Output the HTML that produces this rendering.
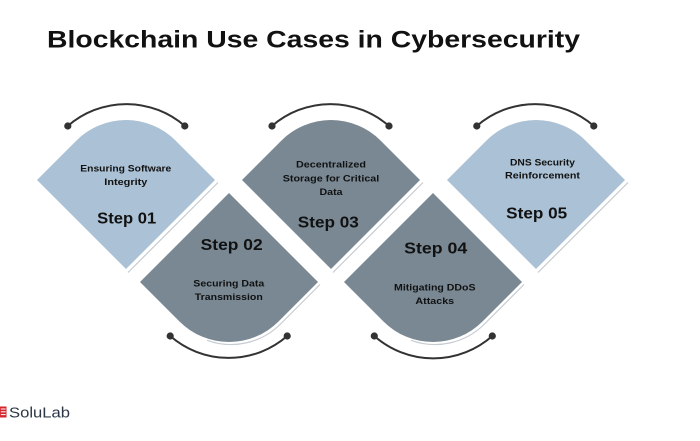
<!DOCTYPE html>
<html>
<head>
<meta charset="utf-8">
<style>
  html, body { margin: 0; padding: 0; background: #ffffff; }
  body { width: 700px; height: 441px; overflow: hidden; }
  svg { display: block; }
  .t { font-family: "Liberation Sans", Arial, sans-serif; font-weight: bold; fill: #111111; }
</style>
</head>
<body>
<svg width="700" height="441" viewBox="0 0 700 441" xmlns="http://www.w3.org/2000/svg">
  <rect width="700" height="441" fill="#ffffff"/>

  <!-- Title -->
  <text class="t" x="47" y="47.5" font-size="24.5" textLength="533" lengthAdjust="spacingAndGlyphs" fill="#050505">Blockchain Use Cases in Cybersecurity</text>

  <!-- Shadow lines -->
  <g fill="none" stroke="#c6ccd2" stroke-width="1.2">
    <line x1="218" y1="182.5" x2="128" y2="272.5"/>
    <line x1="423" y1="182.5" x2="333" y2="272.5"/>
    <line x1="628" y1="182.5" x2="538" y2="272.5"/>
    <path d="M320,284.5 L280.5,324 A70 70 0 0 1 207,340.3"/>
    <path d="M524,284.5 L484.5,324 A70 70 0 0 1 411,340.3"/>
  </g>

  <!-- Diamonds -->
  <path d="M37,180 L76.5,140.5 A70 70 0 0 1 175.5,140.5 L215,180 L126,269 Z" fill="#abc1d5"/>
  <path d="M242,180 L281.5,140.5 A70 70 0 0 1 380.5,140.5 L420,180 L331,269 Z" fill="#798893"/>
  <path d="M447,180 L486.5,140.5 A70 70 0 0 1 585.5,140.5 L625,180 L536,269 Z" fill="#abc1d5"/>
  <path d="M229,193 L318,282 L278.5,321.5 A70 70 0 0 1 179.5,321.5 L140,282 Z" fill="#798893"/>
  <path d="M433,193 L522,282 L482.5,321.5 A70 70 0 0 1 383.5,321.5 L344,282 Z" fill="#798893"/>

  <!-- Arcs -->
  <g fill="none" stroke="#333333" stroke-width="2">
    <path d="M67.8,126 A89 89 0 0 1 184.8,126"/>
    <path d="M272,126 A89 89 0 0 1 389,126"/>
    <path d="M476.8,126 A89 89 0 0 1 593.8,126"/>
    <path d="M170.2,336 A89 89 0 0 0 287.2,336"/>
    <path d="M374.3,336 A89 89 0 0 0 492.3,336"/>
  </g>
  <g fill="#333333">
    <circle cx="67.8" cy="126" r="3.6"/><circle cx="184.8" cy="126" r="3.6"/>
    <circle cx="272" cy="126" r="3.6"/><circle cx="389" cy="126" r="3.6"/>
    <circle cx="476.8" cy="126" r="3.6"/><circle cx="593.8" cy="126" r="3.6"/>
    <circle cx="170.2" cy="336" r="3.6"/><circle cx="287.2" cy="336" r="3.6"/>
    <circle cx="374.3" cy="336" r="3.6"/><circle cx="492.3" cy="336" r="3.6"/>
  </g>

  <!-- Step 01 -->
  <text class="t" x="125.8" y="171.5" font-size="9.5" text-anchor="middle" textLength="91" lengthAdjust="spacingAndGlyphs">Ensuring Software</text>
  <text class="t" x="125.8" y="185" font-size="9.5" text-anchor="middle" textLength="43" lengthAdjust="spacingAndGlyphs">Integrity</text>
  <text class="t" x="126.7" y="223.3" font-size="16" text-anchor="middle" textLength="59" lengthAdjust="spacingAndGlyphs">Step 01</text>

  <!-- Step 02 -->
  <text class="t" x="231.7" y="250" font-size="16" text-anchor="middle" textLength="62" lengthAdjust="spacingAndGlyphs">Step 02</text>
  <text class="t" x="228.8" y="286.5" font-size="9.5" text-anchor="middle" textLength="71" lengthAdjust="spacingAndGlyphs">Securing Data</text>
  <text class="t" x="228.8" y="300" font-size="9.5" text-anchor="middle" textLength="68" lengthAdjust="spacingAndGlyphs">Transmission</text>

  <!-- Step 03 -->
  <text class="t" x="331" y="167.5" font-size="9.5" text-anchor="middle" textLength="70" lengthAdjust="spacingAndGlyphs">Decentralized</text>
  <text class="t" x="331" y="181.5" font-size="9.5" text-anchor="middle" textLength="96.5" lengthAdjust="spacingAndGlyphs">Storage for Critical</text>
  <text class="t" x="331" y="195" font-size="9.5" text-anchor="middle" textLength="23" lengthAdjust="spacingAndGlyphs">Data</text>
  <text class="t" x="328.3" y="227.3" font-size="16" text-anchor="middle" textLength="61" lengthAdjust="spacingAndGlyphs">Step 03</text>

  <!-- Step 04 -->
  <text class="t" x="435.7" y="253.3" font-size="16" text-anchor="middle" textLength="63" lengthAdjust="spacingAndGlyphs">Step 04</text>
  <text class="t" x="434.8" y="290.5" font-size="9.5" text-anchor="middle" textLength="81.5" lengthAdjust="spacingAndGlyphs">Mitigating DDoS</text>
  <text class="t" x="434.8" y="304" font-size="9.5" text-anchor="middle" textLength="38.7" lengthAdjust="spacingAndGlyphs">Attacks</text>

  <!-- Step 05 -->
  <text class="t" x="542.5" y="165.3" font-size="9.5" text-anchor="middle" textLength="65" lengthAdjust="spacingAndGlyphs">DNS Security</text>
  <text class="t" x="542.5" y="178.7" font-size="9.5" text-anchor="middle" textLength="75" lengthAdjust="spacingAndGlyphs">Reinforcement</text>
  <text class="t" x="536.7" y="218.3" font-size="16" text-anchor="middle" textLength="61" lengthAdjust="spacingAndGlyphs">Step 05</text>

  <!-- Logo -->
  <rect x="0" y="406.5" width="6.5" height="11" fill="#d3262e"/>
  <rect x="0.8" y="408.5" width="4.8" height="1" fill="#ffffff"/>
  <rect x="0.8" y="411.3" width="4.8" height="1" fill="#ffffff"/>
  <rect x="0.8" y="414.1" width="4.8" height="1" fill="#ffffff"/>
  <text x="9" y="417.3" font-family="Liberation Sans, Arial, sans-serif" font-size="14.6" fill="#2c3745" textLength="61" lengthAdjust="spacingAndGlyphs">SoluLab</text>
</svg>
</body>
</html>
